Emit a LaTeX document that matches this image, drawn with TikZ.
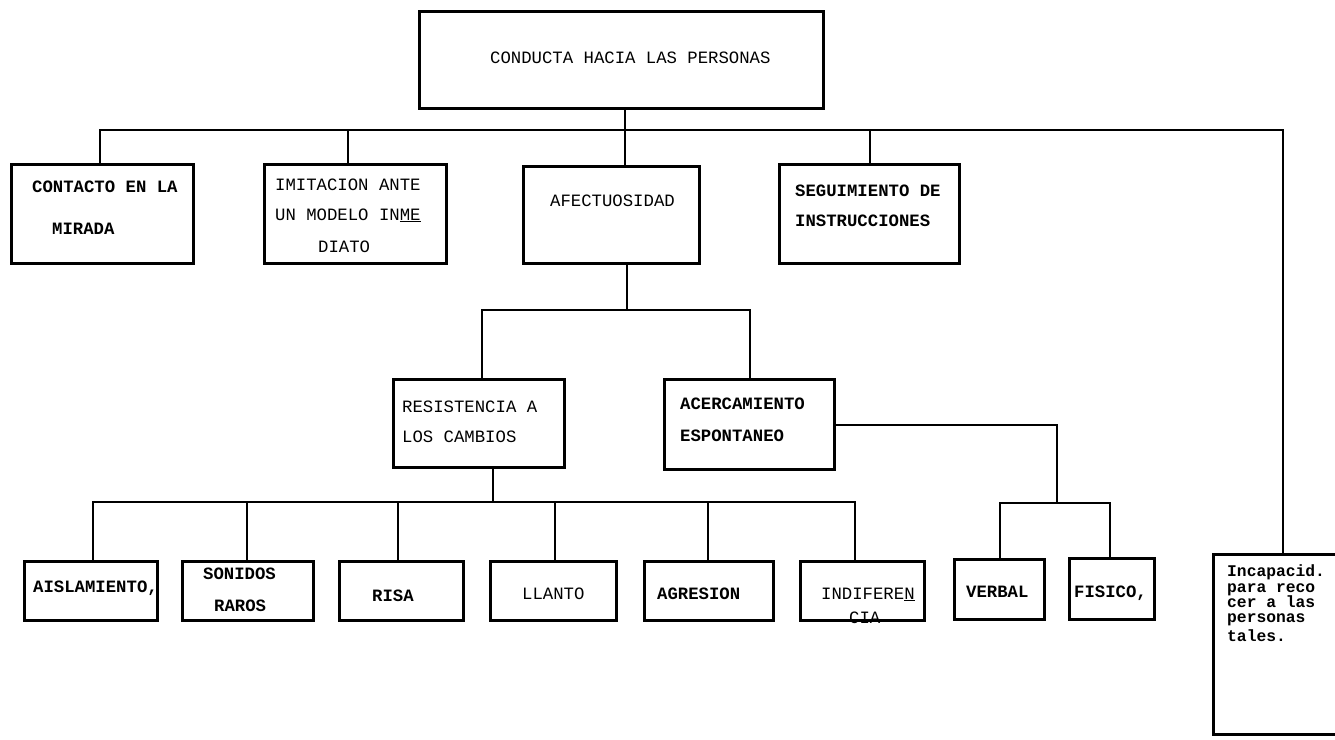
\documentclass[tikz,border=0pt]{standalone}
\usepackage{fontspec}
\setmonofont{Liberation Mono}
\begin{document}
\begin{tikzpicture}[x=1pt,y=-1pt,
  box/.style={draw, line width=3pt, anchor=north west, inner sep=0pt},
  conn/.style={line width=2.5pt},
  tx/.style={anchor=mid west, inner sep=0pt, font=\ttfamily\fontsize{17.3}{18}\selectfont},
  tb/.style={tx, font=\ttfamily\bfseries\fontsize{17.3}{18}\selectfont},
  ts/.style={anchor=mid west, inner sep=0pt, font=\ttfamily\bfseries\fontsize{16.3}{16}\selectfont}]
\useasboundingbox (0,0) rectangle (1335,739);
\begin{scope}
\clip (0,0) rectangle (1335,739);
% boxes
\node[box, minimum width=404, minimum height=97] (top) at (418,10) {};
\node[box, minimum width=182, minimum height=99] (cont) at (10,163) {};
\node[box, minimum width=182, minimum height=99] (imit) at (263,163) {};
\node[box, minimum width=176, minimum height=97] (afec) at (522,165) {};
\node[box, minimum width=180, minimum height=99] (segu) at (778,163) {};
\node[box, minimum width=171, minimum height=88] (resi) at (392,378) {};
\node[box, minimum width=170, minimum height=90] (acer) at (663,378) {};
\node[box, minimum width=133, minimum height=59] (aisl) at (23,560) {};
\node[box, minimum width=131, minimum height=59] (soni) at (181,560) {};
\node[box, minimum width=124, minimum height=59] (risa) at (338,560) {};
\node[box, minimum width=126, minimum height=59] (llan) at (489,560) {};
\node[box, minimum width=129, minimum height=59] (agre) at (643,560) {};
\node[box, minimum width=124, minimum height=59] (indi) at (799,560) {};
\node[box, minimum width=90, minimum height=60] (verb) at (953,558) {};
\node[box, minimum width=85, minimum height=61] (fisi) at (1068,557) {};
\node[box, minimum width=170, minimum height=180] (inca) at (1212,553) {};
% junctions
\coordinate (j0) at (625,130);
\coordinate (jL) at (100,130);
\coordinate (jR) at (1283,130);
\coordinate (jImit) at (348,130);
\coordinate (jSegu) at (870,130);
\coordinate (k0) at (627,310);
\coordinate (kL) at (482,310);
\coordinate (kR) at (750,310);
\coordinate (m0) at (493,502);
\coordinate (mA) at (93,502);
\coordinate (mB) at (247,502);
\coordinate (mC) at (398,502);
\coordinate (mD) at (555,502);
\coordinate (mE) at (708,502);
\coordinate (mF) at (855,502);
\coordinate (n1) at (1057,425);
\coordinate (nL) at (1000,503);
\coordinate (nR) at (1110,503);
% connectors
\draw[conn] (top.south -| j0) -- (j0);
\draw[conn] (cont.north -| jL) -- (jL) -- (jR) -- (inca.north -| jR);
\draw[conn] (imit.north -| jImit) -- (jImit);
\draw[conn] (afec.north -| j0) -- (j0);
\draw[conn] (segu.north -| jSegu) -- (jSegu);
\draw[conn] (afec.south -| k0) -- (k0);
\draw[conn] (resi.north -| kL) -- (kL) -- (kR) -- (acer.north -| kR);
\draw[conn] (resi.south -| m0) -- (m0);
\draw[conn] (aisl.north -| mA) -- (mA) -- (mF) -- (indi.north -| mF);
\draw[conn] (soni.north -| mB) -- (mB);
\draw[conn] (risa.north -| mC) -- (mC);
\draw[conn] (llan.north -| mD) -- (mD);
\draw[conn] (agre.north -| mE) -- (mE);
\draw[conn] (acer.east |- n1) -- (n1) -- (n1 |- nL);
\draw[conn] (verb.north -| nL) -- (nL) -- (nR) -- (fisi.north -| nR);
% texts
\node[tx] (t0) at (490,61) {CONDUCTA HACIA LAS PERSONAS};
\node[tb] (t1a) at (32,190) {CONTACTO EN LA};
\node[tb] (t1b) at (52,232) {MIRADA};
\node[tx] (t2a) at (275,188) {IMITACION ANTE};
\node[tx] (t2b) at (275,218) {UN MODELO IN\underline{ME}};
\node[tx] (t2c) at (318,250) {DIATO};
\node[tx] (t3) at (550,204) {AFECTUOSIDAD};
\node[tb] (t4a) at (795,194) {SEGUIMIENTO DE};
\node[tb] (t4b) at (795,224) {INSTRUCCIONES};
\node[tx] (t5a) at (402,410) {RESISTENCIA A};
\node[tx] (t5b) at (402,440) {LOS CAMBIOS};
\node[tb] (t6a) at (680,407) {ACERCAMIENTO};
\node[tb] (t6b) at (680,439) {ESPONTANEO};
\node[tb] (t7) at (33,590) {AISLAMIENTO,};
\node[tb] (t8a) at (203,577) {SONIDOS};
\node[tb] (t8b) at (214,609) {RAROS};
\node[tb] (t9) at (372,599) {RISA};
\node[tx] (t10) at (522,597) {LLANTO};
\node[tb] (t11) at (657,597) {AGRESION};
\node[tx] (t12a) at (821,597) {INDIFERE\underline{N}};
\node[tx] (t12b) at (849,621) {CIA};
\node[tb] (t13) at (966,595) {VERBAL};
\node[tb] (t14) at (1074,595) {FISICO,};
\node[ts] (t15a) at (1227,574) {Incapacid.};
\node[ts] (t15b) at (1227,590) {para reco};
\node[ts] (t15c) at (1227,605) {cer a las};
\node[ts] (t15d) at (1227,620) {personas};
\node[ts] (t15e) at (1227,639) {tales.};
\end{scope}
\end{tikzpicture}
\end{document}
